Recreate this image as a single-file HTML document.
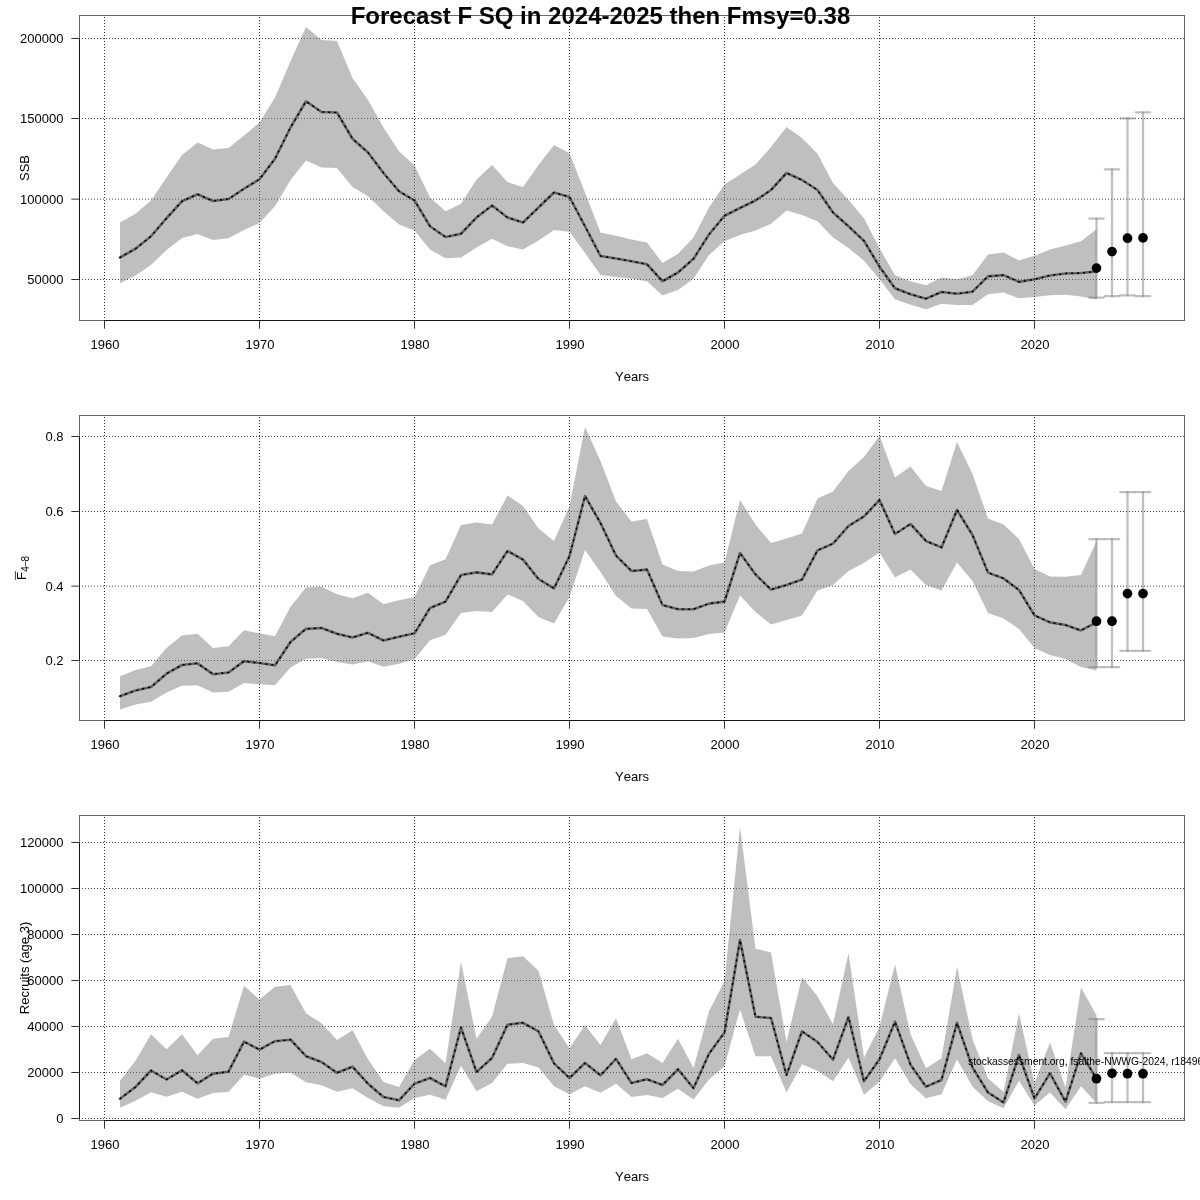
<!DOCTYPE html>
<html lang="en"><head><meta charset="utf-8"><title>Forecast F SQ in 2024-2025 then Fmsy=0.38</title>
<style>html,body{margin:0;padding:0;background:#fff;overflow:hidden}svg{display:block}text{font-family:"Liberation Sans", Arial, Helvetica, sans-serif;fill:#000;font-kerning:none}.g{stroke:#000;stroke-width:0.75;stroke-dasharray:1 2;fill:none;stroke-linecap:butt}.gv{stroke-width:0.85}.ax{stroke:#000;stroke-opacity:0.8;stroke-width:1;fill:none;stroke-linecap:butt}.bx{stroke:#000;stroke-opacity:0.6;stroke-width:1;fill:none}.pg{fill:rgba(127,127,127,0.5);stroke:none}.m1{stroke:#000;stroke-opacity:0.48;stroke-width:2.6;fill:none;stroke-linejoin:round;stroke-linecap:round}.m2{stroke:#000;stroke-width:1.6;fill:none;stroke-linejoin:round;stroke-linecap:round;stroke-dasharray:0.9 5.1}.eb{stroke:rgba(127,127,127,0.5);stroke-width:2.25;fill:none;stroke-linecap:round}.t{font-size:13px}</style></head><body>
<svg width="1200" height="1200" viewBox="0 0 1200 1200">
<rect width="1200" height="1200" fill="#fff"/>
<g>
<line class="g gv" x1="104.5" y1="321" x2="104.5" y2="15.5"/>
<line class="g gv" x1="259.5" y1="321" x2="259.5" y2="15.5"/>
<line class="g gv" x1="414.5" y1="321" x2="414.5" y2="15.5"/>
<line class="g gv" x1="569.5" y1="321" x2="569.5" y2="15.5"/>
<line class="g gv" x1="724.5" y1="321" x2="724.5" y2="15.5"/>
<line class="g gv" x1="879.5" y1="321" x2="879.5" y2="15.5"/>
<line class="g gv" x1="1034.5" y1="321" x2="1034.5" y2="15.5"/>
<line class="g" x1="79" y1="279.5" x2="1184.5" y2="279.5"/>
<line class="g" x1="79" y1="199.13" x2="1184.5" y2="199.13"/>
<line class="g" x1="79" y1="118.5" x2="1184.5" y2="118.5"/>
<line class="g" x1="79" y1="38.5" x2="1184.5" y2="38.5"/>
<polygon class="pg" points="120,222.5 135.5,213.75 151,200.5 166.5,177.5 182,155 197.5,142.5 213,149.5 228.5,148 244,135.5 259.5,122.5 275,97.5 290.5,61.25 306,27 321.5,40 337,41 352.5,78 368,100 383.5,127.5 399,151.25 414.5,165.5 430,197.5 445.5,211.25 461,203.75 476.5,179.5 492,165 507.5,182 523,187 538.5,165 554,145 569.5,153.25 585,192.5 600.5,232.5 616,235.75 631.5,239.5 647,242.5 662.5,263 678,253.75 693.5,237.5 709,207.5 724.5,184.5 740,174.5 755.5,164.5 771,147 786.5,127 802,138 817.5,153.75 833,183 848.5,200 864,218.33 879.5,248.33 895,275.33 910.5,281.17 926,285.33 941.5,277.5 957,279.17 972.5,275.33 988,254.5 1003.5,252.53 1019,260.42 1034.5,255.83 1050,249.42 1065.5,245.38 1081,241.17 1096.5,229.25 1096.5,299.47 1081,296.53 1065.5,294.7 1050,295.25 1034.5,297.08 1019,298.37 1003.5,292.5 988,294.17 972.5,305 957,305 941.5,303.83 926,309.17 910.5,304.67 895,299.17 879.5,279.17 864,260.83 848.5,248 833,237.5 817.5,221.25 802,215 786.5,210.5 771,223.75 755.5,230.5 740,235 724.5,241.25 709,255 693.5,278.75 678,290 662.5,295.5 647,281.25 631.5,278.75 616,277 600.5,275 585,253 569.5,231.75 554,230 538.5,240.5 523,249.5 507.5,246.25 492,238.75 476.5,247.5 461,257.5 445.5,258.25 430,249.5 414.5,230.5 399,224.5 383.5,211.25 368,196.25 352.5,187 337,168 321.5,167.5 306,160.5 290.5,180 275,206.25 259.5,223 244,230 228.5,238.25 213,240 197.5,234 182,238 166.5,250 151,265 135.5,275.5 120,283"/>
<polyline class="m1" points="120,257.5 135.5,248.75 151,236.25 166.5,218.25 182,201.25 197.5,194.25 213,201 228.5,199 244,188.75 259.5,179.25 275,158.75 290.5,127.5 306,101.25 321.5,112 337,112.5 352.5,138.75 368,152.5 383.5,173 399,191.25 414.5,200.5 430,226.25 445.5,237 461,233.75 476.5,217.5 492,205.5 507.5,217.5 523,222.5 538.5,207.5 554,192.5 569.5,197 585,226.25 600.5,256 616,258.5 631.5,261.25 647,264.25 662.5,281.25 678,272.5 693.5,258.75 709,234.5 724.5,215.75 740,208 755.5,200.5 771,190 786.5,173 802,180 817.5,190 833,212.5 848.5,226.25 864,240.83 879.5,266.67 895,288.33 910.5,294.17 926,298.67 941.5,292 957,293.67 972.5,291.67 988,276.33 1003.5,275.08 1019,281.87 1034.5,279.3 1050,275.45 1065.5,273.43 1081,273.07 1096.5,271.42"/>
<polyline class="m2" points="120,257.5 135.5,248.75 151,236.25 166.5,218.25 182,201.25 197.5,194.25 213,201 228.5,199 244,188.75 259.5,179.25 275,158.75 290.5,127.5 306,101.25 321.5,112 337,112.5 352.5,138.75 368,152.5 383.5,173 399,191.25 414.5,200.5 430,226.25 445.5,237 461,233.75 476.5,217.5 492,205.5 507.5,217.5 523,222.5 538.5,207.5 554,192.5 569.5,197 585,226.25 600.5,256 616,258.5 631.5,261.25 647,264.25 662.5,281.25 678,272.5 693.5,258.75 709,234.5 724.5,215.75 740,208 755.5,200.5 771,190 786.5,173 802,180 817.5,190 833,212.5 848.5,226.25 864,240.83 879.5,266.67 895,288.33 910.5,294.17 926,298.67 941.5,292 957,293.67 972.5,291.67 988,276.33 1003.5,275.08 1019,281.87 1034.5,279.3 1050,275.45 1065.5,273.43 1081,273.07 1096.5,271.42"/>
<path class="eb" d="M1096.5 218.6V297.6"/><path class="eb" d="M1089.3 218.6H1103.7"/><path class="eb" d="M1089.3 297.6H1103.7"/>
<path class="eb" d="M1112 169.3V296.2"/><path class="eb" d="M1104.8 169.3H1119.2"/><path class="eb" d="M1104.8 296.2H1119.2"/>
<path class="eb" d="M1127.5 118.3V295.4"/><path class="eb" d="M1120.3 118.3H1134.7"/><path class="eb" d="M1120.3 295.4H1134.7"/>
<path class="eb" d="M1143 112.3V296.2"/><path class="eb" d="M1135.8 112.3H1150.2"/><path class="eb" d="M1135.8 296.2H1150.2"/>
<circle cx="1096.5" cy="268.1" r="4.85" fill="#000"/>
<circle cx="1112" cy="251.6" r="4.85" fill="#000"/>
<circle cx="1127.5" cy="238.2" r="4.85" fill="#000"/>
<circle cx="1143" cy="237.9" r="4.85" fill="#000"/>
<rect class="bx" x="79.5" y="15.5" width="1105" height="305"/>
<path class="ax" d="M104.5 320.5H1034.5"/>
<path class="ax" d="M104.5 320.5V328.7"/>
<text class="t" x="105" y="349" text-anchor="middle">1960</text>
<path class="ax" d="M259.5 320.5V328.7"/>
<text class="t" x="260" y="349" text-anchor="middle">1970</text>
<path class="ax" d="M414.5 320.5V328.7"/>
<text class="t" x="415" y="349" text-anchor="middle">1980</text>
<path class="ax" d="M569.5 320.5V328.7"/>
<text class="t" x="570" y="349" text-anchor="middle">1990</text>
<path class="ax" d="M724.5 320.5V328.7"/>
<text class="t" x="725" y="349" text-anchor="middle">2000</text>
<path class="ax" d="M879.5 320.5V328.7"/>
<text class="t" x="880" y="349" text-anchor="middle">2010</text>
<path class="ax" d="M1034.5 320.5V328.7"/>
<text class="t" x="1035" y="349" text-anchor="middle">2020</text>
<path class="ax" d="M79.5 38.5V279.5"/>
<path class="ax" d="M79.5 279.5H71.3"/>
<text class="t" x="63.5" y="284.2" text-anchor="end">50000</text>
<path class="ax" d="M79.5 199.13H71.3"/>
<text class="t" x="63.5" y="203.83" text-anchor="end">100000</text>
<path class="ax" d="M79.5 118.5H71.3"/>
<text class="t" x="63.5" y="123.46" text-anchor="end">150000</text>
<path class="ax" d="M79.5 38.5H71.3"/>
<text class="t" x="63.5" y="43.09" text-anchor="end">200000</text>
<text class="t" x="632" y="381" text-anchor="middle">Years</text>
<text class="t" transform="translate(29.2,168) rotate(-90)" text-anchor="middle">SSB</text>
</g>
<g>
<line class="g gv" x1="104.5" y1="721" x2="104.5" y2="415.5"/>
<line class="g gv" x1="259.5" y1="721" x2="259.5" y2="415.5"/>
<line class="g gv" x1="414.5" y1="721" x2="414.5" y2="415.5"/>
<line class="g gv" x1="569.5" y1="721" x2="569.5" y2="415.5"/>
<line class="g gv" x1="724.5" y1="721" x2="724.5" y2="415.5"/>
<line class="g gv" x1="879.5" y1="721" x2="879.5" y2="415.5"/>
<line class="g gv" x1="1034.5" y1="721" x2="1034.5" y2="415.5"/>
<line class="g" x1="79" y1="660.5" x2="1184.5" y2="660.5"/>
<line class="g" x1="79" y1="586.15" x2="1184.5" y2="586.15"/>
<line class="g" x1="79" y1="511.5" x2="1184.5" y2="511.5"/>
<line class="g" x1="79" y1="436.5" x2="1184.5" y2="436.5"/>
<polygon class="pg" points="120,676.17 135.5,670 151,666.17 166.5,648 182,635.5 197.5,633.67 213,648 228.5,646.17 244,630.33 259.5,633.33 275,636.33 290.5,606.67 306,587.5 321.5,586.67 337,594.17 352.5,598.33 368,592.83 383.5,604.17 399,600.33 414.5,597 430,565.33 445.5,559.17 461,525 476.5,522.4 492,524.6 507.5,495.4 523,506 538.5,528.4 554,541 569.5,506 585,427 600.5,461 616,501.6 631.5,521.4 647,519 662.5,564.4 678,571 693.5,571.6 709,565.4 724.5,562.4 740,500 755.5,524.6 771,543 786.5,538.6 802,533.6 817.5,498.6 833,491.6 848.5,471 864,457 879.5,435.8 895,477.4 910.5,466.6 926,486 941.5,491 957,442 972.5,474 988,518.4 1003.5,524.4 1019,539 1034.5,569 1050,576.4 1065.5,576.8 1081,575 1096.5,541 1096.5,670.4 1081,667 1065.5,659 1050,655 1034.5,648 1019,629 1003.5,618.4 988,613 972.5,581 957,562.6 941.5,590.4 926,585 910.5,569.6 895,577.4 879.5,552.4 864,563 848.5,571 833,585 817.5,590.6 802,615.6 786.5,620 771,624.4 755.5,612 740,595.6 724.5,632.4 709,634 693.5,638 678,638.4 662.5,636.4 647,609 631.5,608.4 616,596 600.5,572 585,550 569.5,597 554,623.6 538.5,617 523,601 507.5,594.4 492,612 476.5,611 461,613 445.5,634.67 430,640.33 414.5,659.17 399,663.67 383.5,666.67 368,661.33 352.5,664.5 337,662 321.5,658 306,658.67 290.5,667.5 275,685.33 259.5,684.17 244,683 228.5,691.67 213,692.5 197.5,685.33 182,685.83 166.5,692.5 151,701.67 135.5,704.5 120,709.5"/>
<polyline class="m1" points="120,696.17 135.5,690.5 151,687 166.5,673.67 182,665 197.5,663.33 213,674.17 228.5,672.5 244,661.17 259.5,663 275,665.33 290.5,642 306,628.83 321.5,628 337,633.83 352.5,637.5 368,632.83 383.5,640.5 399,636.67 414.5,633.33 430,608 445.5,601.67 461,575 476.5,572.4 492,574.4 507.5,551 523,559.6 538.5,579 554,588.4 569.5,556 585,496 600.5,523 616,555.6 631.5,571 647,569.6 662.5,605 678,609.2 693.5,609.2 709,603.6 724.5,601.6 740,553 755.5,574.4 771,589.6 786.5,585 802,579.6 817.5,550.4 833,543.6 848.5,526 864,516.4 879.5,500 895,534 910.5,524 926,541 941.5,547.4 957,510 972.5,535 988,572.6 1003.5,578.4 1019,590 1034.5,615.4 1050,622.4 1065.5,625 1081,630.4 1096.5,622.4"/>
<polyline class="m2" points="120,696.17 135.5,690.5 151,687 166.5,673.67 182,665 197.5,663.33 213,674.17 228.5,672.5 244,661.17 259.5,663 275,665.33 290.5,642 306,628.83 321.5,628 337,633.83 352.5,637.5 368,632.83 383.5,640.5 399,636.67 414.5,633.33 430,608 445.5,601.67 461,575 476.5,572.4 492,574.4 507.5,551 523,559.6 538.5,579 554,588.4 569.5,556 585,496 600.5,523 616,555.6 631.5,571 647,569.6 662.5,605 678,609.2 693.5,609.2 709,603.6 724.5,601.6 740,553 755.5,574.4 771,589.6 786.5,585 802,579.6 817.5,550.4 833,543.6 848.5,526 864,516.4 879.5,500 895,534 910.5,524 926,541 941.5,547.4 957,510 972.5,535 988,572.6 1003.5,578.4 1019,590 1034.5,615.4 1050,622.4 1065.5,625 1081,630.4 1096.5,622.4"/>
<path class="eb" d="M1096.5 539.2V667.2"/><path class="eb" d="M1089.3 539.2H1103.7"/><path class="eb" d="M1089.3 667.2H1103.7"/>
<path class="eb" d="M1112 539.2V667.2"/><path class="eb" d="M1104.8 539.2H1119.2"/><path class="eb" d="M1104.8 667.2H1119.2"/>
<path class="eb" d="M1127.5 492V650.8"/><path class="eb" d="M1120.3 492H1134.7"/><path class="eb" d="M1120.3 650.8H1134.7"/>
<path class="eb" d="M1143 492V650.8"/><path class="eb" d="M1135.8 492H1150.2"/><path class="eb" d="M1135.8 650.8H1150.2"/>
<circle cx="1096.5" cy="621.2" r="4.85" fill="#000"/>
<circle cx="1112" cy="621.2" r="4.85" fill="#000"/>
<circle cx="1127.5" cy="593.6" r="4.85" fill="#000"/>
<circle cx="1143" cy="593.6" r="4.85" fill="#000"/>
<rect class="bx" x="79.5" y="415.5" width="1105" height="305"/>
<path class="ax" d="M104.5 720.5H1034.5"/>
<path class="ax" d="M104.5 720.5V728.7"/>
<text class="t" x="105" y="749" text-anchor="middle">1960</text>
<path class="ax" d="M259.5 720.5V728.7"/>
<text class="t" x="260" y="749" text-anchor="middle">1970</text>
<path class="ax" d="M414.5 720.5V728.7"/>
<text class="t" x="415" y="749" text-anchor="middle">1980</text>
<path class="ax" d="M569.5 720.5V728.7"/>
<text class="t" x="570" y="749" text-anchor="middle">1990</text>
<path class="ax" d="M724.5 720.5V728.7"/>
<text class="t" x="725" y="749" text-anchor="middle">2000</text>
<path class="ax" d="M879.5 720.5V728.7"/>
<text class="t" x="880" y="749" text-anchor="middle">2010</text>
<path class="ax" d="M1034.5 720.5V728.7"/>
<text class="t" x="1035" y="749" text-anchor="middle">2020</text>
<path class="ax" d="M79.5 436.5V660.5"/>
<path class="ax" d="M79.5 660.5H71.3"/>
<text class="t" x="63.5" y="665.3" text-anchor="end">0.2</text>
<path class="ax" d="M79.5 586.15H71.3"/>
<text class="t" x="63.5" y="590.7" text-anchor="end">0.4</text>
<path class="ax" d="M79.5 511.5H71.3"/>
<text class="t" x="63.5" y="516" text-anchor="end">0.6</text>
<path class="ax" d="M79.5 436.5H71.3"/>
<text class="t" x="63.5" y="441.2" text-anchor="end">0.8</text>
<text class="t" x="632" y="781" text-anchor="middle">Years</text>
<g transform="translate(26,580) rotate(-90)"><text class="t" x="0" y="0">F</text><path d="M0.2 -10.6H8.8" stroke="#000" stroke-width="0.75" fill="none"/><text x="8.2" y="3" font-size="10px" letter-spacing="-0.5">4−8</text></g>
</g>
<g>
<line class="g gv" x1="104.5" y1="1121" x2="104.5" y2="815.5"/>
<line class="g gv" x1="259.5" y1="1121" x2="259.5" y2="815.5"/>
<line class="g gv" x1="414.5" y1="1121" x2="414.5" y2="815.5"/>
<line class="g gv" x1="569.5" y1="1121" x2="569.5" y2="815.5"/>
<line class="g gv" x1="724.5" y1="1121" x2="724.5" y2="815.5"/>
<line class="g gv" x1="879.5" y1="1121" x2="879.5" y2="815.5"/>
<line class="g gv" x1="1034.5" y1="1121" x2="1034.5" y2="815.5"/>
<line class="g" x1="79" y1="1118.5" x2="1184.5" y2="1118.5"/>
<line class="g" x1="79" y1="1072.5" x2="1184.5" y2="1072.5"/>
<line class="g" x1="79" y1="1026.5" x2="1184.5" y2="1026.5"/>
<line class="g" x1="79" y1="980.5" x2="1184.5" y2="980.5"/>
<line class="g" x1="79" y1="934.5" x2="1184.5" y2="934.5"/>
<line class="g" x1="79" y1="888.5" x2="1184.5" y2="888.5"/>
<line class="g" x1="79" y1="842.5" x2="1184.5" y2="842.5"/>
<polygon class="pg" points="120,1080.83 135.5,1060.83 151,1034.17 166.5,1049.17 182,1034.17 197.5,1055.33 213,1038.67 228.5,1037 244,985.83 259.5,999.5 275,986.67 290.5,985 306,1013.33 321.5,1023.33 337,1040 352.5,1030.33 368,1059.17 383.5,1082 399,1087 414.5,1060 430,1048.83 445.5,1063.33 461,961.67 476.5,1038.67 492,1016.67 507.5,958.33 523,956.17 538.5,970.83 554,1025 569.5,1048.33 585,1025 600.5,1045 616,1018.33 631.5,1059.17 647,1053.33 662.5,1063 678,1038.75 693.5,1068 709,1011.25 724.5,981.25 740,826.75 755.5,948.75 771,952.5 786.5,1042 802,977 817.5,996.25 833,1024.17 848.5,953.33 864,1057.5 879.5,1026.67 895,964.5 910.5,1034.17 926,1068.33 941.5,1058.33 957,966.67 972.5,1039.17 988,1078.33 1003.5,1092 1019,1013.33 1034.5,1083.33 1050,1042.5 1065.5,1087.5 1081,987.5 1096.5,1015.33 1096.5,1103 1081,1086.33 1065.5,1109.17 1050,1092.5 1034.5,1105.5 1019,1080.83 1003.5,1108.33 988,1101.33 972.5,1086.67 957,1059.17 941.5,1094.17 926,1098.33 910.5,1084.17 895,1058.33 879.5,1081.67 864,1094.67 848.5,1057.5 833,1081.33 817.5,1070.75 802,1064.25 786.5,1092.5 771,1056.25 755.5,1056.25 740,1009.5 724.5,1066.25 709,1079.5 693.5,1099.5 678,1088.75 662.5,1098 647,1095 631.5,1097 616,1083.67 600.5,1092.83 585,1086.17 569.5,1094.17 554,1086.33 538.5,1067.5 523,1063 507.5,1063.83 492,1083 476.5,1091.33 461,1065.83 445.5,1099.67 430,1094.67 414.5,1098 399,1107.83 383.5,1106.17 368,1098 352.5,1088.33 337,1091.67 321.5,1085.33 306,1082.17 290.5,1072.83 275,1073.83 259.5,1078.67 244,1074.67 228.5,1092 213,1093 197.5,1098.67 182,1091.67 166.5,1096.67 151,1092.17 135.5,1100.83 120,1107.83"/>
<polyline class="m1" points="120,1098.67 135.5,1087 151,1070.5 166.5,1079.5 182,1070.33 197.5,1083.33 213,1073.67 228.5,1071.67 244,1041.67 259.5,1049.67 275,1041.17 290.5,1039.67 306,1056.17 321.5,1062 337,1072.83 352.5,1066.67 368,1083.67 383.5,1097 399,1100.33 414.5,1083.67 430,1078 445.5,1086.33 461,1027.5 476.5,1072 492,1058 507.5,1024.67 523,1022.83 538.5,1031.33 554,1063.33 569.5,1078 585,1063 600.5,1075.33 616,1058.83 631.5,1083 647,1079.17 662.5,1085 678,1069.25 693.5,1088.25 709,1053.75 724.5,1032.5 740,940 755.5,1016.75 771,1018 786.5,1075 802,1031.25 817.5,1042 833,1059.67 848.5,1017 864,1081.33 879.5,1059.17 895,1021.67 910.5,1064.67 926,1086.67 941.5,1080 957,1022.83 972.5,1067.5 988,1092.5 1003.5,1102.5 1019,1055 1034.5,1098.33 1050,1073.33 1065.5,1101.67 1081,1053.33 1096.5,1078.67"/>
<polyline class="m2" points="120,1098.67 135.5,1087 151,1070.5 166.5,1079.5 182,1070.33 197.5,1083.33 213,1073.67 228.5,1071.67 244,1041.67 259.5,1049.67 275,1041.17 290.5,1039.67 306,1056.17 321.5,1062 337,1072.83 352.5,1066.67 368,1083.67 383.5,1097 399,1100.33 414.5,1083.67 430,1078 445.5,1086.33 461,1027.5 476.5,1072 492,1058 507.5,1024.67 523,1022.83 538.5,1031.33 554,1063.33 569.5,1078 585,1063 600.5,1075.33 616,1058.83 631.5,1083 647,1079.17 662.5,1085 678,1069.25 693.5,1088.25 709,1053.75 724.5,1032.5 740,940 755.5,1016.75 771,1018 786.5,1075 802,1031.25 817.5,1042 833,1059.67 848.5,1017 864,1081.33 879.5,1059.17 895,1021.67 910.5,1064.67 926,1086.67 941.5,1080 957,1022.83 972.5,1067.5 988,1092.5 1003.5,1102.5 1019,1055 1034.5,1098.33 1050,1073.33 1065.5,1101.67 1081,1053.33 1096.5,1078.67"/>
<path class="eb" d="M1096.5 1019.2V1102.8"/><path class="eb" d="M1089.3 1019.2H1103.7"/><path class="eb" d="M1089.3 1102.8H1103.7"/>
<path class="eb" d="M1112 1053V1102"/><path class="eb" d="M1104.8 1053H1119.2"/><path class="eb" d="M1104.8 1102H1119.2"/>
<path class="eb" d="M1127.5 1053V1102"/><path class="eb" d="M1120.3 1053H1134.7"/><path class="eb" d="M1120.3 1102H1134.7"/>
<path class="eb" d="M1143 1053V1102"/><path class="eb" d="M1135.8 1053H1150.2"/><path class="eb" d="M1135.8 1102H1150.2"/>
<circle cx="1096.5" cy="1078.7" r="4.85" fill="#000"/>
<circle cx="1112" cy="1073.3" r="4.85" fill="#000"/>
<circle cx="1127.5" cy="1073.7" r="4.85" fill="#000"/>
<circle cx="1143" cy="1073.7" r="4.85" fill="#000"/>
<rect class="bx" x="79.5" y="815.5" width="1105" height="305"/>
<path class="ax" d="M104.5 1120.5H1034.5"/>
<path class="ax" d="M104.5 1120.5V1128.7"/>
<text class="t" x="105" y="1149" text-anchor="middle">1960</text>
<path class="ax" d="M259.5 1120.5V1128.7"/>
<text class="t" x="260" y="1149" text-anchor="middle">1970</text>
<path class="ax" d="M414.5 1120.5V1128.7"/>
<text class="t" x="415" y="1149" text-anchor="middle">1980</text>
<path class="ax" d="M569.5 1120.5V1128.7"/>
<text class="t" x="570" y="1149" text-anchor="middle">1990</text>
<path class="ax" d="M724.5 1120.5V1128.7"/>
<text class="t" x="725" y="1149" text-anchor="middle">2000</text>
<path class="ax" d="M879.5 1120.5V1128.7"/>
<text class="t" x="880" y="1149" text-anchor="middle">2010</text>
<path class="ax" d="M1034.5 1120.5V1128.7"/>
<text class="t" x="1035" y="1149" text-anchor="middle">2020</text>
<path class="ax" d="M79.5 842.5V1118.5"/>
<path class="ax" d="M79.5 1118.5H71.3"/>
<text class="t" x="63.5" y="1123" text-anchor="end">0</text>
<path class="ax" d="M79.5 1072.5H71.3"/>
<text class="t" x="63.5" y="1077" text-anchor="end">20000</text>
<path class="ax" d="M79.5 1026.5H71.3"/>
<text class="t" x="63.5" y="1031" text-anchor="end">40000</text>
<path class="ax" d="M79.5 980.5H71.3"/>
<text class="t" x="63.5" y="985" text-anchor="end">60000</text>
<path class="ax" d="M79.5 934.5H71.3"/>
<text class="t" x="63.5" y="939" text-anchor="end">80000</text>
<path class="ax" d="M79.5 888.5H71.3"/>
<text class="t" x="63.5" y="893" text-anchor="end">100000</text>
<path class="ax" d="M79.5 842.5H71.3"/>
<text class="t" x="63.5" y="847" text-anchor="end">120000</text>
<text class="t" x="632" y="1181" text-anchor="middle">Years</text>
<text class="t" transform="translate(29.4,968) rotate(-90)" text-anchor="middle">Recruits (age 3)</text>
</g>
<text x="600.5" y="24" text-anchor="middle" font-size="24px" font-weight="bold">Forecast F SQ in 2024-2025 then Fmsy=0.38</text>
<text x="968" y="1065" font-size="10.3px">stockassessment.org, fsaithe-NWWG-2024, r18496, git: 4a2f1c9e7b03</text>
</svg></body></html>
